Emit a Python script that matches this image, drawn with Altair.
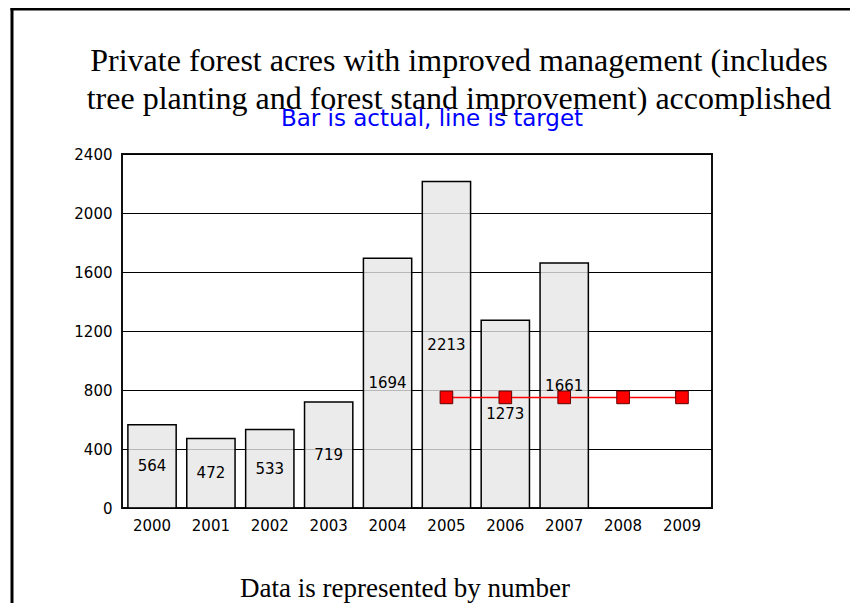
import altair as alt
import pandas as pd

years = ["2000", "2001", "2002", "2003", "2004", "2005", "2006", "2007", "2008", "2009"]
actual = [564, 472, 533, 719, 1694, 2213, 1273, 1661, None, None]
target_years = ["2005", "2006", "2007", "2008", "2009"]
target = [750, 750, 750, 750, 750]
y_ticks = [0, 400, 800, 1200, 1600, 2000, 2400]

title_lines = [
    "Private forest acres with improved management (includes",
    "tree planting and forest stand improvement) accomplished",
]
subtitle = "Bar is actual, line is target"
footer = "Data is represented by number"

bars_df = pd.DataFrame({"year": years, "actual": actual}).dropna()
bars_df["half"] = bars_df["actual"] / 2
target_df = pd.DataFrame({"year": target_years, "target": target})

W, H = 590, 354
xscale = alt.Scale(domain=years, paddingInner=0.18, paddingOuter=0.1)
yscale = alt.Scale(domain=[0, 2400], nice=False)

base = alt.Chart(bars_df)

bars = base.mark_bar(
    fill="#e6e6e6", fillOpacity=0.8, stroke="black", strokeWidth=1.5
).encode(
    x=alt.X("year:N", scale=xscale, sort=years,
            axis=alt.Axis(title=None, labelAngle=0, ticks=False, domain=False,
                          labelFont="DejaVu Sans", labelFontSize=15,
                          labelColor="black", labelPadding=10)),
    y=alt.Y("actual:Q", scale=yscale,
            axis=alt.Axis(title=None, values=y_ticks, format="d", ticks=False,
                          domain=False, grid=True, gridColor="black",
                          gridOpacity=1, gridWidth=1.2,
                          labelFont="DejaVu Sans", labelFontSize=15,
                          labelColor="black", labelPadding=10)),
)

bar_labels = base.mark_text(
    font="DejaVu Sans", fontSize=15, color="black", baseline="middle"
).encode(
    x=alt.X("year:N", scale=xscale, sort=years),
    y=alt.Y("half:Q", scale=yscale),
    text=alt.Text("actual:Q", format="d"),
)

tbase = alt.Chart(target_df)
tline = tbase.mark_line(color="#ff0000", strokeWidth=1.5).encode(
    x=alt.X("year:N", scale=xscale, sort=years),
    y=alt.Y("target:Q", scale=yscale),
)
tpoints = tbase.mark_point(
    shape="square", filled=True, fill="#ff0000", stroke="#600000",
    strokeWidth=1, opacity=1, size=160
).encode(
    x=alt.X("year:N", scale=xscale, sort=years),
    y=alt.Y("target:Q", scale=yscale),
)


def text_layer(txt, x, y, font, size, color="black"):
    return alt.Chart(alt.Data(values=[{"t": txt}])).mark_text(
        font=font, fontSize=size, color=color, align="center", baseline="alphabetic"
    ).encode(text="t:N", x=alt.value(x), y=alt.value(y))


t1 = text_layer(title_lines[0], 337, -83, "Liberation Serif", 32)
t2 = text_layer(title_lines[1], 337, -45, "Liberation Serif", 32)
st = text_layer(subtitle, 310, -28, "DejaVu Sans", 23, "#0000ff")
ft = text_layer(footer, 283, 443, "Liberation Serif", 27)

one = alt.Data(values=[{"k": 1}])
frame_left = alt.Chart(one).mark_rule(color="black", strokeWidth=3).encode(
    x=alt.value(-110), y=alt.value(-147), y2=alt.value(470)
)
frame_top = alt.Chart(one).mark_rule(color="black", strokeWidth=3).encode(
    x=alt.value(-111.5), x2=alt.value(740), y=alt.value(-145)
)

chart = alt.layer(
    bars, bar_labels, tline, tpoints, t1, t2, st, ft, frame_left, frame_top
).properties(
    width=W, height=H,
    autosize=alt.AutoSizeParams(type="none"),
    padding={"left": 114, "top": 146, "right": 138, "bottom": 95},
    background="white",
).configure_view(
    stroke="#111111", strokeWidth=2
)

chart.save("out.html", embed_options={"renderer": "svg", "actions": False})
